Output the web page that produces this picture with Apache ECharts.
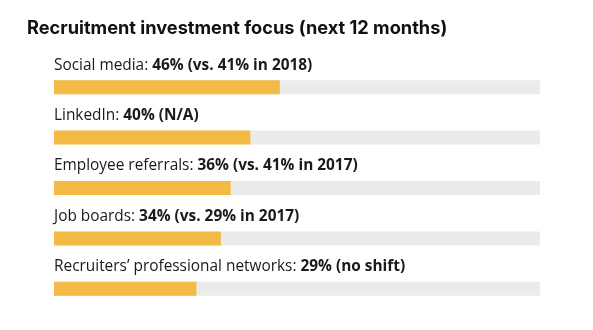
<!DOCTYPE html>
<html>
<head>
<meta charset="utf-8">
<script src="https://cdn.jsdelivr.net/npm/echarts@6/dist/echarts.min.js"></script>
<style>
  html, body { margin: 0; padding: 0; background: #ffffff; }
  #chart { width: 593px; height: 330px; }
</style>
</head>
<body>
<div id="chart"></div>
<script>
// Recruitment channels and their share of planned investment
var categories = [
  'Social media',
  'LinkedIn',
  'Employee referrals',
  'Job boards',
  'Recruiters\u2019 professional networks'
];
var values = [46, 40, 36, 34, 29];
var notes = [
  '(vs. 41% in 2018)',
  '(N/A)',
  '(vs. 41% in 2017)',
  '(vs. 29% in 2017)',
  '(no shift)'
];

var chart = echarts.init(document.getElementById('chart'), null, { renderer: 'canvas' });

chart.setOption({
  animation: false,
  backgroundColor: '#ffffff',
  title: {
    text: 'Recruitment investment focus (next 12 months)',
    left: 27,
    top: 20,
    padding: 0,
    textStyle: {
      fontFamily: 'Inter, Roboto, sans-serif',
      fontWeight: 700,
      fontSize: 18.2,
      color: '#111111'
    }
  },
  grid: { left: 54, right: 53, top: 62, height: 252 },
  xAxis: {
    type: 'value',
    min: 0,
    max: 99,
    show: false
  },
  yAxis: {
    type: 'category',
    data: categories,
    inverse: true,
    show: false
  },
  series: [{
    type: 'bar',
    data: values,
    barWidth: 14,
    itemStyle: { color: '#f3bb45' },
    showBackground: true,
    backgroundStyle: { color: '#ebebeb' },
    label: {
      show: true,
      position: [0, -6],
      verticalAlign: 'bottom',
      align: 'left',
      formatter: function (p) {
        return '{n|' + p.name + ': }{b|' + p.value + '% ' + notes[p.dataIndex] + '}';
      },
      rich: {
        n: {
          fontFamily: '"Open Sans", sans-serif',
          fontSize: 15.4,
          fontWeight: 400,
          color: '#1a1a1a',
          lineHeight: 18
        },
        b: {
          fontFamily: '"Open Sans", sans-serif',
          fontSize: 15.4,
          fontWeight: 700,
          color: '#1a1a1a',
          lineHeight: 18
        }
      }
    }
  }]
});
</script>
</body>
</html>
